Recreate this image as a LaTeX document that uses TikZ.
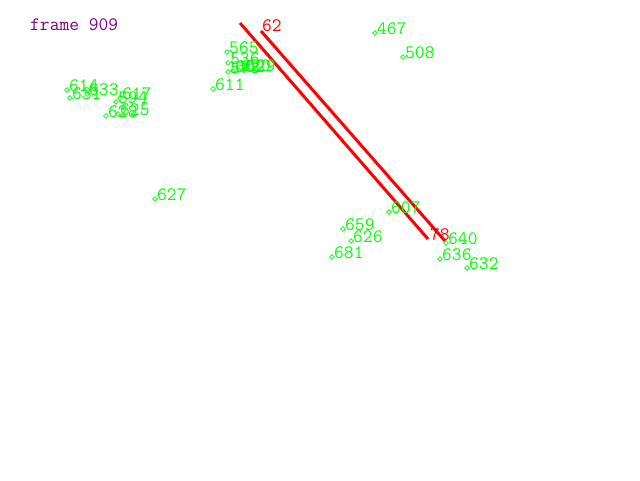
\documentclass[tikz,border=0pt]{standalone}
\usetikzlibrary{shapes.geometric}
\begin{document}
\begin{tikzpicture}[x=1pt,y=-1pt,
  mk/.style={draw=green!100!black, shape=diamond, inner sep=0pt, minimum size=5pt, line width=0.8pt},
  lb/.style={anchor=base west, inner sep=0pt, text=green, font=\ttfamily\fontsize{19}{19}\selectfont},
  rl/.style={anchor=base west, inner sep=0pt, text=red, font=\ttfamily\fontsize{19}{19}\selectfont},
  ttl/.style={anchor=base west, inner sep=0pt, text={rgb,255:red,128;green,0;blue,128}, font=\ttfamily\fontsize{19}{19}\selectfont},
  redline/.style={draw=red, line width=3pt}]
\useasboundingbox (0,0) rectangle (640,480);
\fill[white] (0,0) rectangle (640,480);
\node[ttl] (title) at (30,30) {frame 909};
% red tracks
\coordinate (r1a) at (240,23);
\coordinate (r1b) at (428,239);
\coordinate (r2a) at (261,31);
\coordinate (r2b) at (445,241);
\draw[redline] (r1a) -- (r1b);
\draw[redline] (r2a) -- (r2b);
\node[rl] (l62) at (262,31) {62};
\node[rl] (l78) at (430,240) {78};
% green markers and labels
\foreach \n/\x/\y in {467/375/33, 508/403/57, 565/227/52, 536/228/63,
  573/228/72, 602/233/71, 620/239/70, 629/244/70,
  611/213/89, 614/67/90, 631/70/98, 633/87/94, 617/120/98, 594/116/102,
  625/118/114, 628/106/116, 627/155/199, 607/389/212, 659/343/229,
  626/351/241, 681/332/257, 640/446/243, 636/440/259, 632/467/268}{
  \node[mk] (m\n) at (\x,\y) {};
  \node[lb] (t\n) at (\x+2,\y+1) {\n};
}
\end{tikzpicture}
\end{document}
